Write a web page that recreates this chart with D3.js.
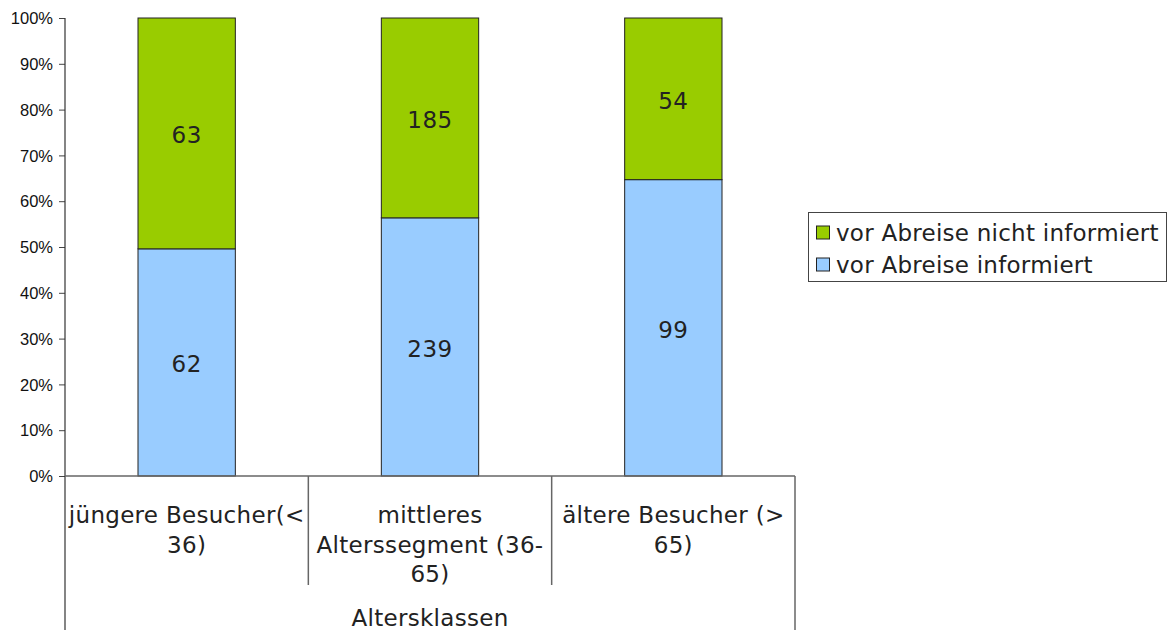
<!DOCTYPE html>
<html>
<head>
<meta charset="utf-8">
<script src="https://cdn.jsdelivr.net/npm/d3@7"></script>
<style>
  html, body { margin: 0; padding: 0; background: #fff; }
  svg { display: block; }
</style>
</head>
<body>
<svg id="chart" width="1169" height="630"></svg>
<script>
// Age classes (multi-line labels) and counts per series
const categories = ["jüngere Besucher(<\n36)", "mittleres\nAlterssegment (36-\n65)", "ältere Besucher (>\n65)"];
const informiert = [62, 239, 99];
const nichtInformiert = [63, 185, 54];
const seriesNames = ["vor Abreise informiert", "vor Abreise nicht informiert"];
const seriesColors = ["#99CCFF", "#99CC00"];
const yTicks = [0, 0.1, 0.2, 0.3, 0.4, 0.5, 0.6, 0.7, 0.8, 0.9, 1.0];
const groupTitle = "Altersklassen";

const svg = d3.select("#chart");
const plot = { left: 65, right: 795, top: 18, bottom: 476 };
const bodyFont = "'DejaVu Sans', Verdana, sans-serif";
const textColor = "#222";

const x = d3.scaleBand().domain(categories).range([plot.left, plot.right]).padding(0);
const y = d3.scaleLinear().domain([0, 1]).range([plot.bottom, plot.top]);
const barW = x.bandwidth() * 0.4;

// stack as shares of each column's total
const rows = categories.map((c, i) => {
  const total = informiert[i] + nichtInformiert[i];
  return { cat: c, a: informiert[i] / total, b: nichtInformiert[i] / total, va: informiert[i], vb: nichtInformiert[i] };
});
const stack = d3.stack().keys(["a", "b"])(rows);

// y axis
const yAxis = d3.axisLeft(y).tickValues(yTicks).tickFormat(d3.format(".0%")).tickSize(6).tickPadding(6);
const gy = svg.append("g").attr("transform", `translate(${plot.left},0)`).call(yAxis);
gy.select(".domain").remove();
gy.selectAll(".tick line").attr("stroke", "#444");
gy.selectAll(".tick text").attr("font-family", "'Liberation Sans', Arial, sans-serif")
  .attr("font-size", 16.5).attr("fill", "#111").attr("dy", "0.34em");

// bars
stack.forEach((layer, li) => {
  svg.append("g").selectAll("rect").data(layer).join("rect")
    .attr("x", d => x(d.data.cat) + (x.bandwidth() - barW) / 2)
    .attr("y", d => y(d[1]))
    .attr("width", barW)
    .attr("height", d => y(d[0]) - y(d[1]))
    .attr("fill", seriesColors[li])
    .attr("stroke", "#222")
    .attr("stroke-width", 1);
  svg.append("g").selectAll("text").data(layer).join("text")
    .attr("x", d => x(d.data.cat) + x.bandwidth() / 2)
    .attr("y", d => (y(d[0]) + y(d[1])) / 2 + 2)
    .attr("text-anchor", "middle")
    .attr("dominant-baseline", "central")
    .attr("font-family", bodyFont)
    .attr("font-size", 23)
    .attr("letter-spacing", 0.5)
    .attr("fill", textColor)
    .text(d => li === 0 ? d.data.va : d.data.vb);
});

// axis lines: y axis and the baseline, plus the category box lines below
const axisColor = "#666";
svg.append("line").attr("x1", plot.left).attr("x2", plot.left).attr("y1", plot.top).attr("y2", 630)
  .attr("stroke", "#333").attr("stroke-width", 1.2);
svg.append("line").attr("x1", plot.left).attr("x2", plot.right).attr("y1", plot.bottom).attr("y2", plot.bottom)
  .attr("stroke", axisColor).attr("stroke-width", 1.5);
categories.slice(1).forEach(c => {
  svg.append("line").attr("x1", x(c)).attr("x2", x(c)).attr("y1", plot.bottom).attr("y2", 585)
    .attr("stroke", axisColor).attr("stroke-width", 1.5);
});
svg.append("line").attr("x1", plot.right).attr("x2", plot.right).attr("y1", plot.bottom).attr("y2", 630)
  .attr("stroke", axisColor).attr("stroke-width", 1.5);

// category labels
categories.forEach(c => {
  const t = svg.append("text")
    .attr("text-anchor", "middle")
    .attr("font-family", bodyFont)
    .attr("font-size", 23)
    .attr("letter-spacing", 0.3)
    .attr("fill", textColor);
  c.split("\n").forEach((line, i) => {
    t.append("tspan").attr("x", x(c) + x.bandwidth() / 2).attr("y", 523 + i * 29.5).text(line);
  });
});
svg.append("text")
  .attr("x", (plot.left + plot.right) / 2).attr("y", 626)
  .attr("text-anchor", "middle")
  .attr("font-family", bodyFont).attr("font-size", 23).attr("letter-spacing", 0.3).attr("fill", textColor)
  .text(groupTitle);

// legend (top entry is the upper stack segment)
const legend = svg.append("g");
legend.append("rect").attr("x", 808.5).attr("y", 212.5).attr("width", 358).attr("height", 69)
  .attr("fill", "#fff").attr("stroke", "#444").attr("stroke-width", 1);
[1, 0].forEach((si, i) => {
  const cy = 233 + i * 32;
  legend.append("rect").attr("x", 816.5).attr("y", cy - 7).attr("width", 13).attr("height", 13)
    .attr("fill", seriesColors[si]).attr("stroke", "#222");
  legend.append("text").attr("x", 836).attr("y", cy).attr("dominant-baseline", "central")
    .attr("font-family", bodyFont).attr("font-size", 23).attr("letter-spacing", 0.25).attr("fill", textColor)
    .text(seriesNames[si]);
});
</script>
</body>
</html>
